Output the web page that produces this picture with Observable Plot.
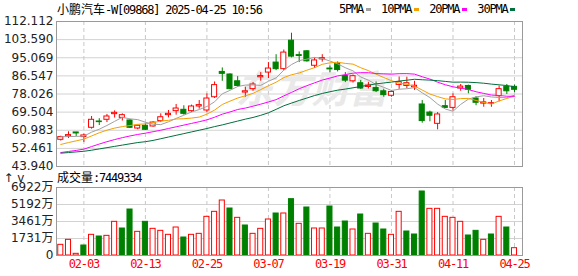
<!DOCTYPE html>
<html><head><meta charset="utf-8">
<script src="https://cdn.jsdelivr.net/npm/d3@7"></script>
<script src="https://cdn.jsdelivr.net/npm/@observablehq/plot@0.6"></script>
<style>
html,body{margin:0;padding:0;background:#fff;}
#wrap{position:relative;width:578px;height:276px;overflow:hidden;}
.t{position:absolute;white-space:nowrap;font-size:12px;line-height:14px;color:#000;}
.mono{font-family:"DejaVu Sans Mono",monospace;letter-spacing:-1.2px;}
.cjk{font-family:"Noto Sans CJK SC",sans-serif;}
#price,#vol{position:absolute;left:0;}
#price{top:0;z-index:2;} #vol{top:170px;z-index:1;}
#price svg,#vol svg{background:transparent !important;overflow:visible;}
.sw{display:inline-block;width:5px;height:3px;vertical-align:middle;margin:0 10px 0 3px;position:relative;top:-1px;}
#vol g[aria-label="x-axis tick label"] text{letter-spacing:-1.2px;}
</style>
</head><body>
<div id="wrap">
  <div id="vol"></div>
  <div id="price"></div>
  <div class="t" id="title" style="left:57px;top:2px;"></div>
  <div class="t" id="legend" style="left:339px;top:2px;"></div>
  <div class="t" id="volTitle" style="left:57px;top:170px;"></div>
</div>
<script>
// ---------- data ----------
const stockName = "小鹏汽车";
const stockCode = "-W[09868] 2025-04-25 10:56";
const volLabel = "成交量";
const volLast = ":7449334";

const dates = ["2025-01-24","2025-01-27","2025-01-28","2025-02-03","2025-02-04","2025-02-05","2025-02-06","2025-02-07","2025-02-10","2025-02-11","2025-02-12","2025-02-13","2025-02-14","2025-02-17","2025-02-18","2025-02-19","2025-02-20","2025-02-21","2025-02-24","2025-02-25","2025-02-26","2025-02-27","2025-02-28","2025-03-03","2025-03-04","2025-03-05","2025-03-06","2025-03-07","2025-03-10","2025-03-11","2025-03-12","2025-03-13","2025-03-14","2025-03-17","2025-03-18","2025-03-19","2025-03-20","2025-03-21","2025-03-24","2025-03-25","2025-03-26","2025-03-27","2025-03-28","2025-03-31","2025-04-01","2025-04-02","2025-04-03","2025-04-07","2025-04-08","2025-04-09","2025-04-10","2025-04-11","2025-04-14","2025-04-15","2025-04-16","2025-04-17","2025-04-22","2025-04-23","2025-04-24","2025-04-25"];

const open  = [56.5,58.07,59.95,57.76,62.14,65.1,65.9,68.55,66.8,65.58,61.8,63.08,62.76,65.3,68.08,69.96,70.6,69.96,72.15,70.27,76.5,88.4,87.2,84.0,78.7,80.3,85.9,88.1,92.8,89.7,103.1,96.3,98.1,91.3,94.3,90.0,92.2,86.5,84.0,83.1,81.3,80.9,79.3,77.2,82.3,81.8,81.2,73.1,69.3,64.0,72.3,71.5,80.6,81.8,75.9,73.5,73.4,77.0,81.4,81.4];
const high  = [58.2,60.26,59.95,59.17,67.45,66.4,68.4,70.1,68.7,66.05,63.4,64.0,64.95,68.7,70.27,73.1,72.5,72.8,74.96,78.09,83.7,90.3,87.5,86.2,81.2,83.4,88.1,92.8,96.5,98.7,106.6,97.8,98.4,94.9,96.5,91.2,93.1,88.1,87.0,84.4,83.5,83.7,80.3,79.7,86.0,85.9,84.0,74.96,69.96,69.3,74.96,78.1,82.5,82.2,76.8,75.9,74.96,81.8,82.5,82.2];
const low   = [55.9,57.1,58.07,55.26,61.5,63.2,64.6,66.7,65.3,61.8,61.2,60.9,62.45,64.6,66.8,68.1,68.1,69.3,70.9,69.3,75.9,84.0,80.0,81.2,76.5,79.3,84.0,85.3,89.0,89.0,95.0,92.8,93.0,90.0,93.0,88.0,88.4,83.4,83.2,80.2,80.4,78.7,76.5,76.5,80.2,80.6,79.7,64.3,64.95,61.2,71.2,69.96,79.3,78.1,72.5,71.8,71.8,74.3,77.8,78.7];
const close = [57.76,58.7,59.48,58.54,65.9,64.8,67.45,69.17,68.08,62.14,63.1,61.2,64.6,67.1,68.7,71.2,68.7,72.15,72.8,75.9,82.2,87.5,80.3,81.8,79.3,82.5,86.5,90.0,89.7,97.5,95.6,95.9,93.4,93.8,94.9,89.6,89.3,84.3,86.4,80.6,82.0,79.3,77.5,79.0,83.6,83.1,81.9,65.3,67.8,68.4,71.5,76.5,81.5,80.0,73.9,74.1,73.7,80.3,79.3,80.0];

const ma5  = [57.9,58.0,58.1,58.2,60.08,61.48,63.23,65.17,67.08,66.33,65.99,64.74,63.82,63.63,64.94,66.56,68.06,69.57,70.71,72.15,74.35,78.11,79.74,81.54,82.22,82.28,82.08,84.02,85.60,89.24,91.86,93.74,94.42,95.24,94.72,93.52,92.20,90.38,88.90,86.04,84.52,82.52,81.16,79.68,80.28,80.50,81.02,78.58,76.34,73.30,70.98,69.90,73.14,75.58,76.68,77.20,76.64,76.40,76.26,77.48];
const ma10 = [54.3,55.2,56.0,56.8,58.3,59.8,61.0,62.0,62.7,63.20,63.74,63.99,64.50,65.35,65.63,66.27,66.40,66.70,67.17,68.55,70.46,73.09,74.66,76.13,77.19,78.32,80.10,81.88,83.57,85.73,87.07,87.91,89.22,90.42,91.98,92.69,92.97,92.40,92.07,90.38,89.02,87.36,85.77,84.29,83.16,82.51,81.77,79.87,78.01,76.79,75.74,75.46,75.86,75.96,74.99,74.09,73.27,74.77,75.92,77.08];
const ma20 = [50.5,51.0,51.5,52.1,53.3,54.5,55.6,56.6,57.5,58.3,59.0,59.6,60.3,61.0,61.8,62.6,63.4,64.2,65.0,65.87,67.10,68.54,69.58,70.74,71.41,72.29,73.25,74.29,75.37,77.14,78.76,80.50,81.94,83.27,84.58,85.50,86.53,87.14,87.82,88.06,88.05,87.64,87.50,87.36,87.57,87.60,87.37,86.14,85.04,83.59,82.38,81.41,80.82,80.13,79.08,78.30,77.52,77.32,76.97,76.94];
const ma30 = [50.2,50.5,50.8,51.1,51.6,52.2,52.8,53.4,54.0,54.6,55.2,55.6,56.2,57.0,57.8,58.6,59.4,60.2,61.0,61.8,62.7,63.5,64.4,65.3,66.2,67.0,68.0,69.2,70.8,72.49,73.75,74.99,76.12,77.30,78.27,79.09,79.82,80.33,80.94,81.55,82.18,82.79,83.22,83.61,84.11,84.51,84.95,84.72,84.55,84.30,83.94,83.58,83.62,83.56,83.38,83.10,82.67,82.35,82.00,81.42];

// volume in 万 shares
const volume = [1086,1595,170,1018,2104,1934,2002,3427,2748,4682,2409,3427,2714,2511,2104,2850,1832,2104,2205,3936,4445,5598,4784,3834,3054,2205,2714,3664,4275,4275,5734,3223,4886,2748,2748,4988,2850,3461,2647,4173,2205,3257,2647,2104,4445,2443,2138,6515,4750,4750,3936,3834,3427,2036,2511,1595,2138,3936,2850,745];

const priceTickLabels = ["43.940","52.461","60.983","69.504","78.026","86.547","95.069","103.590","112.112"];
const volTickLabels = ["0","1731万","3461万","5192万","6922万"];
const volTickValues = [0,1731,3461,5192,6922];
const xTickLabels = ["02-03","02-13","02-25","03-07","03-19","03-31","04-11","04-25"];

const maNames = ["5PMA","10PMA","20PMA","30PMA"];
const maColors = ["#a0a0a0","#f5a000","#ff00ff","#00703c"];
const maSeries = [ma5, ma10, ma20, ma30];
const watermark = "东方财富";

// ---------- build ----------
const RED = "#ff0000", GREEN = "#008000";
const priceTicks = priceTickLabels.map(Number);
const candles = dates.map((d,i)=>({i, o:open[i], h:high[i], l:low[i], c:close[i]}));
const vols = dates.map((d,i)=>({i, v:volume[i], up: i===0 ? true : close[i] >= close[i-1]}));
const isUp = d => d.c >= d.o;
const half = 0.33;
const tickIdx = xTickLabels.map(t => dates.findIndex(d => d.endsWith(t)));
const xDomain = [-0.56, 60.04];

const axisFont = "DejaVu Sans, Noto Sans CJK SC, sans-serif";

const pricePlot = Plot.plot({
  width:578, height:170,
  marginLeft:56, marginRight:56, marginTop:21, marginBottom:4,
  style:{background:"transparent", overflow:"visible"},
  x:{type:"linear", domain:xDomain, axis:null},
  y:{domain:[priceTicks[0], priceTicks[priceTicks.length-1]], axis:null},
  marks:[
    Plot.gridY(priceTicks, {stroke:"#d2d2d2", strokeOpacity:1}),
    Plot.gridX(tickIdx, {stroke:"#c8c8c8", strokeOpacity:1, strokeDasharray:"4,3"}),
    Plot.text([watermark], {frameAnchor:"middle", text:d=>d, dx:22, dy:-3, fontSize:38, fontWeight:"bold", fontStyle:"italic", fill:"#e9e9e9", fontFamily:"Noto Sans CJK SC"}),
    Plot.ruleX(candles, {x:"i", y1:"l", y2:"h", stroke:d=>isUp(d)?RED:GREEN, strokeWidth:1}),
    Plot.rect(candles, {x1:d=>d.i-half, x2:d=>d.i+half, y1:"o", y2:"c", fill:d=>isUp(d)?"#ffffff":GREEN, stroke:d=>isUp(d)?RED:GREEN, strokeWidth:1}),
    ...maSeries.map((s,k)=>Plot.line(s.map((v,i)=>({i,v})), {x:"i", y:"v", stroke:maColors[k], strokeWidth:1})),
    Plot.axisY(priceTicks, {tickSize:0, tickPadding:3, fontSize:12, fontFamily:axisFont, color:"#222",
      tickFormat:d=>priceTickLabels[priceTicks.indexOf(d)]}),
    Plot.frame({stroke:"#9a9a9a"})
  ]
});
document.getElementById("price").appendChild(pricePlot);

const volPlot = Plot.plot({
  width:578, height:106,
  marginLeft:56, marginRight:56, marginTop:17, marginBottom:21,
  style:{background:"transparent", overflow:"visible"},
  x:{type:"linear", domain:xDomain},
  y:{domain:[0, volTickValues[volTickValues.length-1]]},
  marks:[
    Plot.gridY(volTickValues, {stroke:"#d2d2d2", strokeOpacity:1}),
    Plot.gridX(tickIdx, {stroke:"#c8c8c8", strokeOpacity:1, strokeDasharray:"4,3"}),
    Plot.rect(vols, {x1:d=>d.i-half, x2:d=>d.i+half, y1:0, y2:"v", fill:d=>d.up?"#ffffff":GREEN, stroke:d=>d.up?RED:GREEN, strokeWidth:1}),
    Plot.axisY(volTickValues, {tickSize:0, tickPadding:3, fontSize:12, fontFamily:axisFont, color:"#222",
      tickFormat:d=>volTickLabels[volTickValues.indexOf(d)]}),
    Plot.axisX(tickIdx, {tickSize:0, tickPadding:4, fontSize:12, fontFamily:"DejaVu Sans Mono, monospace", color:RED,
      tickFormat:i=>xTickLabels[tickIdx.indexOf(i)], label:null}),
    Plot.frame({stroke:"#9a9a9a"})
  ]
});
document.getElementById("vol").appendChild(volPlot);

// title & legend
document.getElementById("title").innerHTML =
  `<span class="cjk">${stockName}</span><span class="mono">${stockCode}</span>`;
document.getElementById("legend").innerHTML = maNames.map((n,k)=>
  `<span class="mono">${n}</span><span class="sw" style="background:${maColors[k]}"></span>`).join("");
document.getElementById("volTitle").innerHTML =
  `<span class="cjk">${volLabel}</span><span class="mono">${volLast}</span>`;
</script>
</body></html>
